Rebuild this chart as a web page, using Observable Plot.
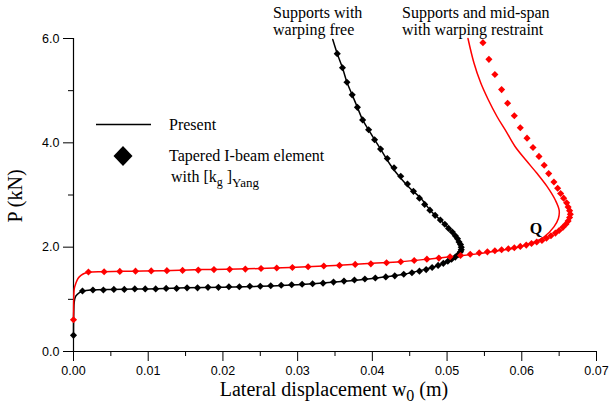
<!DOCTYPE html>
<html>
<head>
<meta charset="utf-8">
<script src="https://cdn.jsdelivr.net/npm/d3@7"></script>
<script src="https://cdn.jsdelivr.net/npm/@observablehq/plot@0.6"></script>
<style>
  html, body { margin: 0; padding: 0; background: #fff; }
  #chart { position: relative; width: 609px; height: 409px; }
</style>
</head>
<body>
<div id="chart"></div>
<script>
// ---- Data (w0 in m, P in kN) ----
// Supports with warping free — Present (line)
const freePresent = [
  [0,0.31],[0.00003,0.75],[0.0001,0.95],[0.0003,1.06],[0.0007,1.12],[0.0013,1.16],[0.0025,1.18],
  [0.005,1.19],[0.01,1.20],[0.015,1.22],[0.02,1.23],[0.025,1.25],[0.03,1.28],[0.035,1.33],
  [0.04,1.40],[0.0438,1.47],[0.0464,1.55],[0.0482,1.62],[0.0496,1.69],[0.0509,1.77],[0.0515,1.85],
  [0.0519,1.93],[0.0519,1.99],[0.0517,2.06],[0.0509,2.26],[0.0491,2.52],[0.0478,2.70],[0.0464,2.95],
  [0.0451,3.12],[0.0438,3.32],[0.0424,3.58],[0.0411,3.88],[0.0403,4.06],[0.0395,4.25],[0.0387,4.44],
  [0.038,4.68],[0.0373,4.92],[0.0366,5.16],[0.036,5.44],[0.0353,5.71],[0.0347,5.98]
];
// Supports with warping free — Tapered I-beam element (markers)
const freeYang = [
  [0,0.31],[0.0012,1.16],[0.0026,1.18],[0.0040,1.18],[0.0054,1.19],[0.0068,1.19],[0.0082,1.20],
  [0.0096,1.20],[0.0110,1.20],[0.0124,1.21],[0.0138,1.21],[0.0152,1.22],[0.0166,1.22],[0.0180,1.23],
  [0.0194,1.23],[0.0208,1.24],[0.0222,1.24],[0.0236,1.25],[0.0250,1.25],[0.0264,1.26],[0.0278,1.27],
  [0.0292,1.28],[0.0306,1.29],[0.0320,1.30],[0.0334,1.31],[0.0348,1.33],[0.0362,1.35],[0.0376,1.37],
  [0.0390,1.39],[0.0404,1.41],[0.0418,1.43],[0.0430,1.45],[0.0442,1.48],[0.0453,1.51],[0.0463,1.54],
  [0.0472,1.57],[0.0480,1.61],[0.0488,1.65],[0.0495,1.69],[0.0501,1.73],[0.0506,1.77],[0.0511,1.81],
  [0.0515,1.86],[0.0518,1.91],[0.0519,1.95],[0.0519,2.00],[0.0518,2.05],[0.0516,2.10],[0.0514,2.16],
  [0.0511,2.22],[0.0507,2.29],[0.0502,2.36],[0.0497,2.44],[0.0491,2.52],[0.0484,2.61],[0.0477,2.71],
  [0.0470,2.82],[0.0463,2.94],[0.0455,3.07],[0.0447,3.21],[0.0438,3.36],[0.0429,3.52],[0.0420,3.70],
  [0.0411,3.88],[0.0403,4.06],[0.0395,4.25],[0.0387,4.44],[0.0380,4.68],[0.0373,4.92],[0.0366,5.16],
  [0.0360,5.44],[0.0353,5.71]
];
// Supports and mid-span with warping restraint — Present (line)
const restPresent = [
  [0,0.60],[0.00003,0.98],[0.0001,1.20],[0.0003,1.30],[0.0006,1.40],[0.001,1.46],[0.0015,1.50],
  [0.002,1.52],[0.004,1.53],[0.008,1.54],[0.012,1.55],[0.017,1.57],[0.022,1.58],[0.029,1.61],
  [0.035,1.65],[0.04,1.69],[0.0438,1.72],[0.048,1.78],[0.0514,1.83],[0.0549,1.89],[0.0572,1.94],
  [0.0589,1.98],[0.0612,2.07],[0.0630,2.20],[0.0643,2.39],[0.0649,2.55],[0.0650,2.71],[0.0645,2.90],
  [0.0634,3.16],[0.0620,3.42],[0.0606,3.66],[0.0591,3.93],[0.0579,4.22],[0.0567,4.50],[0.0555,4.83],
  [0.0545,5.15],[0.0536,5.53],[0.0528,6.00]
];
// Supports and mid-span with warping restraint — Tapered I-beam element (markers)
const restYang = [
  [0,0.61],[0.0020,1.525],[0.0041,1.53],[0.0062,1.535],[0.0083,1.54],[0.0104,1.545],[0.0125,1.55],
  [0.0146,1.555],[0.0167,1.56],[0.0188,1.57],[0.0209,1.575],[0.0230,1.58],[0.0251,1.59],[0.0272,1.60],
  [0.0293,1.61],[0.0314,1.625],[0.0335,1.64],[0.0356,1.65],[0.0377,1.67],[0.0398,1.68],[0.0419,1.70],
  [0.0438,1.72],[0.0456,1.745],[0.0473,1.77],[0.0489,1.79],[0.0504,1.815],[0.0518,1.84],[0.0531,1.865],
  [0.0543,1.89],[0.0554,1.91],[0.0564,1.93],[0.0573,1.95],[0.0582,1.97],[0.0590,1.99],[0.0598,2.015],
  [0.0606,2.04],[0.0613,2.07],[0.0620,2.10],[0.0627,2.13],[0.0633,2.17],[0.0639,2.22],[0.0645,2.27],
  [0.0650,2.32],[0.0655,2.38],[0.0659,2.44],[0.0662,2.50],[0.0664,2.57],[0.0665,2.63],[0.0664,2.70],
  [0.0662,2.77],[0.0660,2.85],[0.0656,2.94],[0.0652,3.03],[0.0648,3.13],[0.0643,3.25],[0.0636,3.41],
  [0.0630,3.57],[0.0623,3.74],[0.0615,3.91],[0.0607,4.09],[0.0598,4.29],[0.0590,4.52],[0.0581,4.76],
  [0.0573,5.02],[0.0564,5.31],[0.0556,5.60],[0.0548,5.92]
];
// Tick values
const xMajor = [0, 0.01, 0.02, 0.03, 0.04, 0.05, 0.06, 0.07];
const xMinor = [0.005, 0.015, 0.025, 0.035, 0.045, 0.055, 0.065];
const yMajor = [0, 2, 4, 6];
const yMinor = [1, 3, 5];

const X = d => d[0], Y = d => d[1];
const serif = "'Liberation Serif', 'Times New Roman', serif";

const svg = Plot.plot({
  width: 609, height: 409,
  marginLeft: 73, marginRight: 13, marginTop: 38, marginBottom: 58,
  x: {domain: [0, 0.07]},
  y: {domain: [0, 6]},
  style: {fontFamily: "'Liberation Sans', Arial, sans-serif", fontSize: "12.5px", color: "#000", background: "#fff", overflow: "visible"},
  marks: [
    Plot.axisX({ticks: xMajor, tickSize: 10, tickPadding: 5, tickFormat: d => d.toFixed(2), label: null, stroke: "#000", strokeWidth: 1}),
    Plot.axisX({ticks: xMinor, tickSize: 5, tickFormat: () => "", label: null, stroke: "#000", strokeWidth: 1}),
    Plot.axisY({ticks: yMajor, tickSize: 10, tickPadding: 4, tickFormat: d => d.toFixed(1), label: null, stroke: "#000", strokeWidth: 1}),
    Plot.axisY({ticks: yMinor, tickSize: 5, tickFormat: () => "", label: null, stroke: "#000", strokeWidth: 1}),
    Plot.ruleX([0], {stroke: "#000", strokeWidth: 1.2}),
    Plot.ruleY([0], {stroke: "#000", strokeWidth: 1.2}),
    Plot.line(freePresent, {x: X, y: Y, stroke: "#000", strokeWidth: 1.5, curve: "catmull-rom"}),
    Plot.line(restPresent, {x: X, y: Y, stroke: "#ff0000", strokeWidth: 1.5, curve: "catmull-rom"}),
    Plot.dot(freeYang, {x: X, y: Y, symbol: "diamond2", r: 3.2, fill: "#000", stroke: "none"}),
    Plot.dot(restYang, {x: X, y: Y, symbol: "diamond2", r: 3.2, fill: "#ff0000", stroke: "none"})
  ]
});

const s = d3.select(svg);
// Axis titles
s.append("text").attr("transform", "translate(22,196) rotate(-90)")
  .attr("text-anchor", "middle").attr("font-family", serif).attr("font-size", 20).attr("fill", "#000")
  .text("P (kN)");
const xt = s.append("text").attr("x", 334).attr("y", 396).attr("text-anchor", "middle")
  .attr("font-family", serif).attr("font-size", 20).attr("fill", "#000");
xt.append("tspan").text("Lateral displacement w");
xt.append("tspan").attr("dy", 5).attr("font-size", 16).text("0");
xt.append("tspan").attr("dy", -5).text(" (m)");

// Annotations
const ann = s.append("g").attr("font-family", serif).attr("font-size", 16).attr("fill", "#000").attr("text-anchor", "start");
ann.append("text").attr("x", 273).attr("y", 18).text("Supports with");
ann.append("text").attr("x", 273).attr("y", 35).text("warping free");
ann.append("text").attr("x", 402).attr("y", 18).text("Supports and mid-span");
ann.append("text").attr("x", 402).attr("y", 35).text("with warping restraint");
ann.append("text").attr("x", 536).attr("y", 234).attr("text-anchor", "middle").attr("font-weight", "bold").text("Q");

// Legend
const lg = s.append("g").attr("font-family", serif).attr("font-size", 16).attr("fill", "#000").attr("text-anchor", "start");
lg.append("line").attr("x1", 96).attr("x2", 151).attr("y1", 124.5).attr("y2", 124.5).attr("stroke", "#000").attr("stroke-width", 1.5);
lg.append("text").attr("x", 169).attr("y", 130).text("Present");
lg.append("path").attr("d", "M123,146 L132.5,156 L123,166 L113.5,156 Z").attr("fill", "#000");
lg.append("text").attr("x", 169).attr("y", 161).text("Tapered I-beam element");
const l2 = lg.append("text").attr("x", 171).attr("y", 182);
l2.append("tspan").text("with [k");
l2.append("tspan").attr("dy", 4).attr("font-size", 12).text("g");
l2.append("tspan").attr("dy", -4).text(" ]");
l2.append("tspan").attr("dy", 5).attr("font-size", 13).text("Yang");

document.getElementById("chart").appendChild(svg);
</script>
</body>
</html>
